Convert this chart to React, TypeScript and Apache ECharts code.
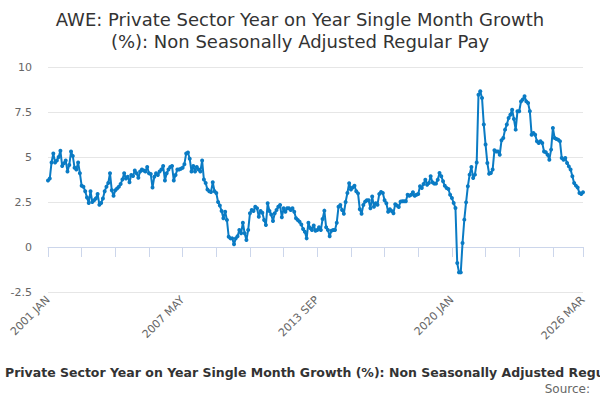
import React, { useEffect, useRef } from "react";
import * as echarts from "echarts";

const MONTHS = ["JAN", "FEB", "MAR", "APR", "MAY", "JUN", "JUL", "AUG", "SEP", "OCT", "NOV", "DEC"];
const FIRST_YEAR = 2001;
const LAST_YEAR = 2026;
const LAST_MONTHS = 3;

const y2001 = [3.7, 3.8, 4.7, 5.2, 4.7, 4.8, 5.0, 5.35, 4.5, 4.65, 4.8, 4.2];
const y2002 = [4.55, 5.3, 5.05, 4.4, 4.3, 4.7, 4.1, 3.4, 3.35, 3.1, 2.75, 2.45];
const y2003 = [3.1, 2.5, 2.6, 2.7, 2.95, 2.35, 2.45, 2.7, 3.1, 3.35, 3.55, 4.1];
const y2004 = [3.15, 2.85, 3.15, 3.25, 3.35, 3.5, 3.75, 4.1, 3.8, 3.9, 3.6, 4.0];
const y2005 = [3.95, 4.25, 4.1, 3.85, 4.2, 4.3, 4.25, 4.2, 4.45, 4.1, 4.05, 3.3];
const y2006 = [3.9, 4.1, 4.0, 4.2, 4.3, 4.5, 3.7, 4.1, 4.3, 4.45, 4.5, 3.7];
const y2007 = [4.0, 4.3, 4.3, 4.35, 4.4, 4.6, 5.2, 5.25, 4.9, 4.2, 4.5, 4.2];
const y2008 = [4.45, 4.3, 4.2, 4.8, 3.75, 3.55, 3.2, 3.1, 3.05, 3.6, 3.1, 3.0];
const y2009 = [2.5, 2.3, 2.0, 1.6, 1.96, 1.5, 0.57, 0.48, 0.48, 0.15, 0.48, 0.6];
const y2010 = [0.95, 0.76, 1.35, 0.76, 0.39, 0.94, 1.87, 2.06, 2.0, 2.24, 2.15, 1.68];
const y2011 = [2.0, 1.9, 1.5, 1.22, 2.43, 2.0, 1.8, 1.45, 1.87, 2.06, 2.24, 2.33];
const y2012 = [1.65, 2.15, 1.96, 2.15, 2.15, 2.06, 2.15, 1.96, 1.6, 1.5, 1.4, 1.25];
const y2013 = [1.0, 0.85, 0.48, 1.35, 1.05, 0.95, 1.2, 0.9, 0.94, 1.1, 0.94, 1.55];
const y2014 = [2.02, 1.1, 0.94, 0.6, 0.9, 0.94, 0.94, 1.35, 2.24, 2.33, 2.06, 1.85];
const y2015 = [2.5, 3.0, 3.54, 3.2, 3.3, 3.4, 3.1, 2.98, 2.1, 1.85, 2.33, 2.52];
const y2016 = [2.6, 2.6, 2.15, 2.8, 2.24, 2.43, 2.35, 2.95, 3.05, 3.0, 2.6, 2.43];
const y2017 = [1.96, 2.1, 2.0, 1.88, 2.38, 2.3, 2.22, 2.52, 2.54, 2.54, 2.54, 2.9];
const y2018 = [2.85, 2.9, 3.04, 2.85, 2.9, 2.95, 3.37, 3.28, 3.5, 3.74, 3.46, 3.56];
const y2019 = [3.93, 3.6, 3.52, 3.52, 3.74, 4.11, 3.93, 3.65, 3.4, 3.28, 3.22, 2.9];
const y2020 = [2.72, 2.44, 2.17, -0.89, -1.41, -1.41, 0.22, 1.52, 2.48, 3.37, 4.02, 4.44];
const y2021 = [3.83, 4.02, 4.7, 8.46, 8.65, 8.28, 6.8, 5.69, 4.67, 4.07, 4.11, 4.3];
const y2022 = [5.37, 5.31, 5.3, 5.13, 5.93, 6.06, 6.52, 6.8, 7.17, 7.35, 7.63, 7.11];
const y2023 = [6.52, 7.54, 7.54, 8.09, 8.19, 8.37, 8.09, 8.0, 7.54, 6.24, 6.33, 6.24];
const y2024 = [5.87, 5.78, 5.87, 5.78, 5.31, 5.26, 5.13, 4.85, 5.41, 6.61, 6.06, 6.0];
const y2025 = [5.96, 5.87, 4.94, 4.85, 4.94, 4.67, 4.48, 4.3, 3.93, 3.56, 3.41, 3.3];
const y2026 = [3.0, 2.95, 3.04];

const YEARLY = [
  y2001, y2002, y2003, y2004, y2005, y2006, y2007, y2008, y2009, y2010, y2011, y2012, y2013,
  y2014, y2015, y2016, y2017, y2018, y2019, y2020, y2021, y2022, y2023, y2024, y2025, y2026,
];

const Y_MIN = -2.5;
const Y_MAX = 10;
const Y_STEP = 2.5;

const TITLE = "AWE: Private Sector Year on Year Single Month Growth\n(%): Non Seasonally Adjusted Regular Pay";
const SERIES_NAME = "Private Sector Year on Year Single Month Growth (%): Non Seasonally Adjusted Regular Pay";
const SOURCE = "Source:";

function buildCategories(): string[] {
  const out: string[] = [];
  for (let y = FIRST_YEAR; y <= LAST_YEAR; y++) {
    const n = y === LAST_YEAR ? LAST_MONTHS : 12;
    for (let m = 0; m < n; m++) out.push(`${y} ${MONTHS[m]}`);
  }
  return out;
}

export default function App() {
  const ref = useRef<HTMLDivElement>(null);
  useEffect(() => {
    document.body.style.margin = "0";
    if (!ref.current) return;
    const chart = echarts.init(ref.current, undefined, { renderer: "svg" });
    const categories = buildCategories();
    const values = YEARLY.flat();
    const last = categories.length - 1;
    const font = "'DejaVu Sans', Verdana, sans-serif";
    chart.setOption({
      animation: false,
      textStyle: { fontFamily: font },
      title: {
        text: TITLE,
        left: "center",
        top: 3,
        textStyle: { fontSize: 18, fontWeight: "normal", color: "#333333", lineHeight: 22, fontFamily: font },
      },
      grid: { left: 48, right: 17, top: 67, bottom: 108, containLabel: false },
      xAxis: {
        type: "category",
        data: categories,
        boundaryGap: false,
        axisLine: { lineStyle: { color: "#ccd6eb", width: 1 } },
        axisTick: {
          length: 10,
          lineStyle: { color: "#ccd6eb" },
          interval: (i: number) => i % 19 === 0 || i === last,
        },
        axisLabel: {
          rotate: 45,
          color: "#666666",
          fontSize: 11,
          margin: 6,
          fontFamily: font,
          interval: (i: number) => i % 76 === 0 || i === last,
        },
        splitLine: { show: false },
      },
      yAxis: {
        type: "value",
        min: Y_MIN,
        max: Y_MAX,
        interval: Y_STEP,
        axisLine: { show: false },
        axisTick: { show: false },
        axisLabel: { color: "#666666", fontSize: 11, margin: 16, fontFamily: font },
        splitLine: { lineStyle: { color: "#e6e6e6", width: 1 } },
      },
      series: [
        {
          type: "line",
          name: SERIES_NAME,
          data: values,
          symbol: "circle",
          symbolSize: 4,
          showSymbol: true,
          showAllSymbol: true,
          lineStyle: { color: "#0a7bc4", width: 2 },
          itemStyle: { color: "#0a7bc4" },
        },
      ],
      graphic: [
        {
          type: "text",
          left: 5,
          top: 366,
          style: { text: SERIES_NAME, fontSize: 12.5, fontWeight: "bold", fill: "#333333", fontFamily: font },
        },
        {
          type: "text",
          right: 10,
          top: 383,
          style: { text: SOURCE, fontSize: 12, fill: "#666666", fontFamily: font },
        },
      ],
    });
    return () => chart.dispose();
  }, []);
  return <div ref={ref} style={{ width: 600, height: 400 }} />;
}
